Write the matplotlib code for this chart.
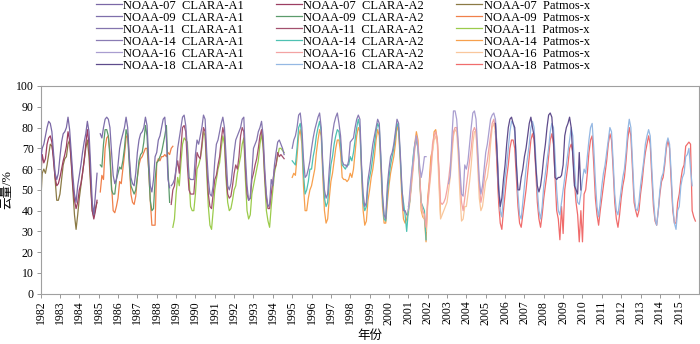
import numpy as np
import matplotlib
matplotlib.use('Agg')
import matplotlib.pyplot as plt

plt.rcParams.update({
    'font.family': ['Liberation Serif', 'Noto Sans CJK SC'],
    'font.size': 8.5, 'axes.linewidth': 0.8,
})
nan = np.nan

# ── monthly cloud amount (%), each list starts at the given year/month ──
# CLARA-A1
a1_n07_start = (1982, 1)
a1_n07 = [64, 70, 72, 76, 80, 83, 82, 78, 68, 58, 55, 58,
          66, 73, 77, 78, 80, 85, 79, 68, 57, 48, 44, 52,
          57, 62, 68, 73, 77, 83, 78, 62, 44, 38, 48, 58]
a1_n09_start = (1985, 2)
a1_n09 = [77, 75, 80, 84, 85, 84, 80, 68, 57, 53, 55,
          62, 70, 74, 77, 80, 85, 80, 66, 56, 53, 52, 58,
          68, 74, 77, 78, 80, 85, 81, 65, 52, 49, 55, 66,
          68, 74, 76, 80, 84, 85, 75, 55, 51]
a1_n11_start = (1988, 10)
a1_n11 = [52, 53, 55,
          60, 70, 75, 80, 85, 86, 81, 70, 56, 55, 55, 55,
          67, 74, 72, 76, 80, 86, 84, 68, 55, 48, 47, 52,
          64, 72, 74, 78, 82, 85, 80, 66, 52, 50, 53, 60,
          68, 74, 76, 78, 80, 84, 85, 66, 52, 45, 46, 58,
          70, 72, 74, 78, 80, 83, 76, 60, 48, 42, 43, 55,
          52, 62, 68, 73, 74, 72, 70, 67]
a1_n14_start = (1995, 1)
a1_n14 = [70, 74, 76, 80, 86, 87, 80, 65, 56, 57, 60, 64,
          70, 75, 79, 82, 85, 87, 80, 62, 50, 46, 48, 60,
          70, 77, 82, 85, 87, 82, 76, 64, 62, 62, 61, 64,
          73, 74, 75, 80, 84, 86, 84, 62, 48, 42, 44, 55,
          60, 66, 72, 76, 80, 84, 82, 66, 48, 38, 36, 52,
          60, 66, 68, 72, 78, 84, 82, 68, 52, 40, 40, 38]
a1_n16_start = (2001, 1)
a1_n16 = [40, 50, 58, 64, 72, 76, 70, 62, 56, 60, 66, 66,
          nan, nan, nan, nan, nan, nan, nan, nan, nan, nan, nan, nan,
          nan, 53, 57, 75, 88, 88, 84, 72, 60, 48, 47, 62,
          60, 64, 72, 80, 87, 88, 84, 70, 55, 48, 52, 60,
          68, 72, 78, 84, 86, 87, 84, 70, 50, 44]
a1_n18_start = (2005, 7)
a1_n18 = [82, 68, 50, 42, 46, 55,
          62, 72, 80, 84, 85, 82, 80, 62, 50, 50, 56, 60,
          66, 70, 76, 82, 85, 80, 76, 62, 52, 49, 52, 58,
          66, 72, 80, 86, 87, 85, 74, 56, 55, 56, 56, 57,
          62, 76, 80, 82, 85, 80, 66, 52, 50, 48, 68, 50]

# CLARA-A2
a2_n07_start = (1982, 1)
a2_n07 = [55, 67, 63, 65, 72, 75, 76, 73, 64, 56, 52, 53,
          56, 60, 64, 67, 71, 78, 74, 64, 52, 45, 41, 44,
          50, 53, 58, 64, 72, 79, 72, 55, 40, 36, 40, 45]
a2_n09_start = (1985, 2)
a2_n09 = [62, 61, 72, 79, 79, 76, 66, 50, 48, 48, 55,
          58, 61, 60, 64, 70, 79, 76, 62, 52, 50, 48, 50,
          56, 64, 67, 68, 73, 81, 76, 60, 45, 40, 41, 55,
          63, 64, 66, 68, 72, 76, 81, 60, 44]
a2_n11_start = (1988, 10)
a2_n11 = [43, 50, 52,
          60, 64, 58, 70, 80, 81, 78, 62, 50, 48, 48, 48,
          58, 68, 66, 65, 72, 80, 78, 62, 48, 42, 41, 48,
          55, 57, 62, 66, 74, 80, 76, 58, 48, 46, 47, 52,
          58, 62, 60, 66, 76, 80, 78, 60, 48, 45, 46, 55,
          58, 62, 65, 70, 76, 79, 72, 56, 46, 41, 41, 48,
          54, 60, 62, 68, 66, 67, 66, 65]
a2_n14_start = (1995, 1)
a2_n14 = [64, 63, 62, 70, 80, 82, 76, 58, 48, 50, 54, 60,
          60, 66, 70, 76, 80, 83, 78, 60, 46, 42, 44, 54,
          62, 66, 72, 76, 79, 78, 72, 62, 61, 60, 62, 62,
          66, 64, 68, 74, 80, 84, 80, 60, 44, 40, 42, 52,
          56, 60, 66, 72, 78, 82, 80, 64, 46, 36, 35, 48,
          56, 62, 66, 70, 76, 82, 80, 66, 50, 44, 38, 30,
          40, 45, 56, 66, 72, 74, 70, 56, 44, 42, 40, 26]
a2_n16_start = (2001, 1)
a2_n16 = [42, 45, 55, 62, 70, 76, 72, 58, 44, 40, 38, 32,
          44, 52, 60, 72, 76, 78, 74, 60, 44, 43, 44, 46,
          50, 55, 62, 70, 78, 80, 80, 72, 56, 44, 40, 46,
          52, 58, 64, 70, 78, 80, 78, 66, 52, 44, 48, 54,
          60, 64, 70, 76, 82, 84, 80, 66, 50, 40]
a2_n18_start = (2005, 7)
a2_n18 = [84, 70, 54, 40, 37, 48,
          56, 62, 70, 78, 83, 82, 78, 64, 48, 38, 36, 44,
          52, 60, 66, 72, 80, 83, 80, 66, 50, 40, 36, 42,
          52, 58, 64, 70, 78, 82, 80, 66, 50, 40, 38, 44,
          50, 56, 62, 68, 74, 80, 76, 62, 50, 44, 43, 48,
          55, 60, 58, 66, 74, 80, 82, 70, 54, 42, 37, 44,
          52, 58, 62, 68, 74, 80, 78, 64, 48, 40, 38, 44,
          50, 56, 60, 68, 78, 84, 80, 64, 48, 41, 40, 44,
          52, 58, 64, 72, 76, 79, 76, 60, 46, 36, 33, 40,
          50, 56, 58, 64, 72, 75, 72, 58, 42, 34, 31, 40,
          42, 52, 56, 58, 66, 67, 70, 60, 52]

# Patmos-x
px_n07_start = (1982, 1)
px_n07 = [43, 58, 60, 58, 62, 67, 72, 71, 66, 55, 45, 45,
          48, 55, 62, 65, 66, 72, 74, 63, 50, 38, 31, 38,
          46, 52, 58, 64, 70, 74, 66, 52, 40, 37, 41, 44]
px_n09_start = (1985, 2)
px_n09 = [49, 57, 55, 70, 75, 76, 68, 52, 40, 39, 42,
          46, 54, 53, 60, 67, 75, 77, 65, 48, 44, 43, 47,
          56, 62, 65, 66, 68, 70, 70, 60, 45, 33, 33, 33,
          63, 65, 64, 66, 66, 67, 66, 68, 67, 70, 71]
px_n11_start = (1988, 11)
px_n11 = [32, 36,
          48, 56, 52, 63, 72, 75, 74, 73, 56, 42, 40, 40,
          48, 60, 62, 65, 70, 78, 76, 58, 42, 33, 31, 40,
          50, 55, 60, 63, 70, 76, 72, 55, 44, 40, 41, 45,
          50, 52, 58, 62, 66, 72, 75, 55, 40, 36, 38, 48,
          52, 56, 60, 64, 72, 77, 70, 54, 40, 35, 32, 42,
          50, 58, 62, 66, 70, 70, 69, 68]
px_n14_start = (1995, 1)
px_n14 = [56, 58, 57, 66, 76, 79, 72, 52, 40, 40, 46, 50,
          52, 56, 60, 68, 74, 79, 76, 56, 40, 34, 36, 46,
          54, 58, 64, 70, 74, 74, 68, 56, 55, 55, 54, 55,
          58, 56, 60, 68, 76, 80, 78, 58, 40, 33, 35, 45,
          50, 56, 60, 66, 74, 79, 76, 60, 42, 34, 34, 44,
          52, 58, 62, 66, 72, 81, 78, 64, 46, 36, 34, 36,
          40, 46, 54, 62, 72, 78, 74, 58, 40, 37, 36, 25,
          46, 54, 66, 69, 78, 79, 74, 58, 38]
px_n16_start = (2001, 1)
px_n16 = [38, 44, 52, 60, 70, 74, 70, 56, 42, 38, 36, 30,
          42, 50, 58, 68, 74, 76, 72, 52, 36, 38, 40, 42,
          44, 50, 56, 66, 76, 79, 78, 66, 48, 35, 36, 42,
          42, 48, 54, 62, 72, 78, 78, 62, 46, 40, 42, 48,
          54, 56, 62, 72, 80, 82, 78, 62, 46, 38]
px_n18_start = (2005, 7)
px_n18 = [78, 62, 44, 34, 31, 40,
          48, 56, 62, 70, 74, 74, 70, 56, 42, 34, 32, 38,
          44, 50, 58, 66, 74, 77, 74, 60, 44, 36, 32, 38,
          46, 52, 58, 66, 74, 77, 72, 56, 40, 36, 26, 42,
          29, 50, 56, 62, 70, 72, 68, 54, 44, 38, 25, 40,
          25, 48, 50, 58, 68, 74, 76, 62, 46, 38, 33, 40,
          46, 52, 58, 64, 72, 77, 74, 60, 44, 36, 32, 38,
          46, 52, 56, 64, 74, 80, 76, 60, 44, 40, 37, 40,
          48, 54, 62, 68, 72, 76, 72, 56, 42, 35, 33, 40,
          48, 54, 56, 62, 70, 74, 70, 54, 40, 34, 34, 44,
          48, 55, 60, 62, 71, 72, 73, 72, 40, 37, 35]

sats = ['NOAA-07', 'NOAA-09', 'NOAA-11', 'NOAA-14', 'NOAA-16', 'NOAA-18']
a1_data = [(a1_n07_start, a1_n07), (a1_n09_start, a1_n09), (a1_n11_start, a1_n11),
           (a1_n14_start, a1_n14), (a1_n16_start, a1_n16), (a1_n18_start, a1_n18)]
a2_data = [(a2_n07_start, a2_n07), (a2_n09_start, a2_n09), (a2_n11_start, a2_n11),
           (a2_n14_start, a2_n14), (a2_n16_start, a2_n16), (a2_n18_start, a2_n18)]
px_data = [(px_n07_start, px_n07), (px_n09_start, px_n09), (px_n11_start, px_n11),
           (px_n14_start, px_n14), (px_n16_start, px_n16), (px_n18_start, px_n18)]

a1_colors = ['#7B68A6', '#7E6FAB', '#8475AE', '#8A7CB4', '#A99ED0', '#5E4B8B']
a2_colors = ['#9C3E62', '#5B9B6B', '#A3506E', '#4EC1B2', '#F3A3A3', '#95B8E3']
px_colors = ['#8B7A45', '#F0804A', '#9BCB4B', '#F7A04D', '#F9C79C', '#F06C6C']


def months(start, vals):
    y0, m0 = start
    k = np.arange(len(vals))
    return y0 + (m0 - 1 + k) / 12.0, np.array(vals, dtype=float)


fig = plt.figure(figsize=(7.0, 3.44), dpi=100)
ax = fig.add_axes([0.058, 0.146, 0.940, 0.604])

handles = []
for prod, data, cols, z in [('CLARA-A1', a1_data, a1_colors, 3),
                            ('CLARA-A2', a2_data, a2_colors, 2),
                            ('Patmos-x', px_data, px_colors, 1)]:
    for sat, (st, vals), c in zip(sats, data, cols):
        t, v = months(st, vals)
        ln, = ax.plot(t, v, color=c, lw=0.9, zorder=z, label=f'{sat}  {prod}')
        handles.append(ln)

ax.set_xlim(1982, 2016)
ax.set_ylim(0, 100)
ax.set_yticks(np.arange(0, 101, 10))
years = np.arange(1982, 2016)
ax.set_xticks(years)
ax.set_xticklabels([str(y) for y in years], rotation=90)
ax.tick_params(direction='out', length=3, width=0.6, color='#888888', labelsize=8.5, pad=2)
for s in ax.spines.values():
    s.set_color('#A0A0A0')
ax.set_xlabel('年份', fontsize=9, labelpad=4)
ax.set_ylabel('云量/%', fontsize=9, labelpad=2)

fig.legend(handles=handles, loc='upper left', bbox_to_anchor=(0.135, 1.005), ncol=3,
           frameon=False, fontsize=9, handlelength=2.1, handletextpad=0.1,
           columnspacing=2.55, labelspacing=0.0, borderaxespad=0, borderpad=0.1)

fig.savefig('out.png', dpi=100, facecolor='white')
